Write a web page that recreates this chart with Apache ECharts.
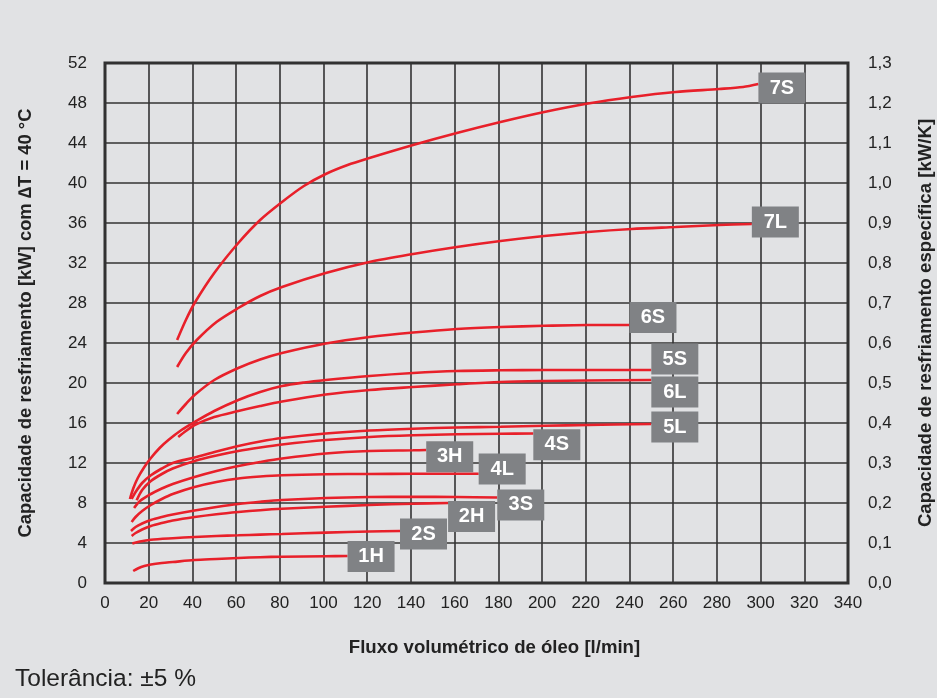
<!DOCTYPE html>
<html>
<head>
<meta charset="utf-8">
<script src="https://cdn.jsdelivr.net/npm/echarts@6/dist/echarts.min.js"></script>
<style>
html,body{margin:0;padding:0;background:#e1e2e4;overflow:hidden;}
#c{width:937px;height:698px;}
</style>
</head>
<body>
<div id="c"></div>
<script>
// ---- data (flow l/min, capacity kW) ----
const names = ['7S','7L','6S','5S','6L','5L','4S','3H','4L','3S','2H','2S','1H'];

const x7S = [33, 37, 41, 50, 61, 71, 81, 91, 101, 111, 121, 141, 161, 181, 201, 221, 241, 261, 281, 292, 299];
const y7S = [24.3, 26.3, 28.0, 31.0, 34.0, 36.3, 38.1, 39.7, 40.9, 41.8, 42.5, 43.8, 45.0, 46.1, 47.1, 47.95, 48.6, 49.1, 49.4, 49.6, 49.9];

const x7L = [33, 37, 42, 51, 61, 71, 81, 101, 121, 141, 161, 181, 201, 221, 241, 261, 281, 296];
const y7L = [21.6, 23.0, 24.3, 26.1, 27.5, 28.7, 29.6, 31.0, 32.1, 32.9, 33.6, 34.2, 34.7, 35.1, 35.4, 35.6, 35.8, 35.9];

const x6S = [33, 37, 41, 50, 61, 71, 81, 101, 121, 141, 161, 181, 201, 221, 240];
const y6S = [16.9, 17.9, 18.8, 20.3, 21.5, 22.35, 23.0, 23.95, 24.6, 25.05, 25.4, 25.6, 25.72, 25.8, 25.8];

const x5S = [11.4, 13, 15, 18, 21, 25, 29, 35, 41, 50, 61, 71, 81, 91, 101, 121, 141, 161, 181, 201, 221, 250];
const y5S = [8.4, 9.5, 10.5, 11.6, 12.5, 13.5, 14.3, 15.3, 16.1, 17.2, 18.3, 19.1, 19.7, 20.05, 20.3, 20.7, 21.0, 21.2, 21.27, 21.3, 21.3, 21.3];

const x6L = [33.5, 37, 41, 50, 61, 71, 81, 101, 121, 141, 161, 181, 201, 221, 250];
const y6L = [14.6, 15.2, 15.8, 16.6, 17.2, 17.7, 18.15, 18.85, 19.3, 19.6, 19.87, 20.1, 20.2, 20.25, 20.3];

const x5L = [12.2, 14, 17, 21, 26, 31, 41, 51, 61, 71, 81, 101, 121, 141, 161, 181, 201, 221, 250];
const y5L = [8.4, 9.1, 10.0, 10.77, 11.45, 12.0, 12.55, 13.15, 13.7, 14.15, 14.5, 14.95, 15.25, 15.43, 15.55, 15.63, 15.72, 15.8, 15.9];

const x4S = [14.5, 17, 21, 26, 31, 41, 51, 61, 71, 81, 101, 121, 141, 161, 181, 196];
const y4S = [8.27, 9.3, 10.2, 10.9, 11.45, 12.2, 12.75, 13.2, 13.55, 13.85, 14.3, 14.6, 14.77, 14.87, 14.93, 14.95];

const x3H = [13.3, 16, 21, 26, 31, 41, 51, 61, 71, 81, 101, 121, 141, 147];
const y3H = [7.5, 8.2, 8.9, 9.45, 9.9, 10.6, 11.2, 11.7, 12.1, 12.45, 12.95, 13.2, 13.27, 13.3];

const x4L = [12.2, 14, 17, 21, 26, 31, 41, 51, 61, 71, 81, 101, 121, 141, 161, 171];
const y4L = [6.1, 6.6, 7.2, 7.8, 8.4, 8.9, 9.6, 10.1, 10.45, 10.65, 10.78, 10.88, 10.9, 10.92, 10.92, 10.92];

const x3S = [11.9, 14, 17, 21, 26, 31, 41, 51, 61, 71, 81, 101, 121, 141, 161, 179.5];
const y3S = [5.2, 5.6, 5.95, 6.3, 6.6, 6.85, 7.25, 7.6, 7.9, 8.12, 8.3, 8.5, 8.6, 8.62, 8.6, 8.55];

const x2H = [12.2, 14, 17, 21, 26, 31, 41, 51, 61, 71, 81, 101, 121, 141, 157];
const y2H = [4.7, 5.0, 5.35, 5.7, 6.0, 6.25, 6.6, 6.88, 7.1, 7.28, 7.42, 7.62, 7.8, 7.93, 8.0];

const x2S = [12.5, 16, 21, 31, 41, 51, 61, 71, 81, 101, 121, 135];
const y2S = [3.94, 4.15, 4.33, 4.48, 4.6, 4.7, 4.77, 4.84, 4.9, 5.04, 5.15, 5.2];

const x1H = [12.9, 15, 18, 21, 26, 31, 41, 51, 61, 71, 81, 101, 111];
const y1H = [1.2, 1.45, 1.7, 1.85, 2.0, 2.1, 2.3, 2.4, 2.5, 2.58, 2.63, 2.68, 2.7];

const flowAxis = {min: 0, max: 340, step: 20};
const capAxis = {min: 0, max: 52, step: 4};
const specAxis = {min: 0, max: 1.3, step: 0.1};

// ---- styling ----
const seriesX = {'7S':x7S,'7L':x7L,'6S':x6S,'5S':x5S,'6L':x6L,'5L':x5L,'4S':x4S,'3H':x3H,'4L':x4L,'3S':x3S,'2H':x2H,'2S':x2S,'1H':x1H};
const seriesY = {'7S':y7S,'7L':y7L,'6S':y6S,'5S':y5S,'6L':y6L,'5L':y5L,'4S':y4S,'3H':y3H,'4L':y4L,'3S':y3S,'2H':y2H,'2S':y2S,'1H':y1H};
const labelDy = {'7S':4,'7L':-2,'6S':-7.5,'5S':-11,'6L':12,'5L':3,'4S':11.3,'3H':6.7,'4L':-4.7,'3S':7.4,'2H':13.6,'2S':3,'1H':0.5};

const FONT = '"Liberation Sans", Arial, sans-serif';
const RED = '#e8202a';

const series = names.map(n => {
  const xs = seriesX[n], ys = seriesY[n];
  const data = xs.map((x, i) => [x, ys[i]]);
  const last = data[data.length - 1];
  return {
    name: n,
    type: 'line',
    data: data,
    smooth: 0.3,
    showSymbol: false,
    symbol: 'none',
    lineStyle: {color: RED, width: 2.6},
    z: 3,
    markPoint: {
      symbol: 'rect',
      symbolSize: [47, 31],
      symbolOffset: [23.5, labelDy[n]],
      itemStyle: {color: '#808285'},
      label: {show: true, position: 'inside', formatter: n, color: '#fff', fontWeight: 'bold', fontSize: 20, fontFamily: FONT},
      data: [{coord: last}],
      animation: false
    }
  };
});

const chart = echarts.init(document.getElementById('c'), null, {renderer: 'canvas'});
chart.setOption({
  animation: false,
  backgroundColor: '#e1e2e4',
  grid: {left: 105, right: 89, top: 63, bottom: 115, outerBoundsMode: 'none', containLabel: false,
         show: true, backgroundColor: '#e1e2e4', borderColor: '#2e2e2e', borderWidth: 3},
  xAxis: {
    type: 'value', min: flowAxis.min, max: flowAxis.max, interval: flowAxis.step,
    name: 'Fluxo volumétrico de óleo [l/min]', nameLocation: 'middle', nameGap: 55,
    nameTextStyle: {fontFamily: FONT, fontSize: 18.6, fontWeight: 'bold', color: '#222', padding: [0, 0, 0, 36]},
    axisLine: {show: false}, axisTick: {show: false},
    axisLabel: {fontFamily: FONT, fontSize: 17, color: '#222', margin: 12},
    splitLine: {show: true, lineStyle: {color: '#333', width: 1.6}}
  },
  yAxis: [{
    type: 'value', min: capAxis.min, max: capAxis.max, interval: capAxis.step,
    name: 'Capacidade de resfriamento [kW] com \u2206T = 40 \u00b0C', nameLocation: 'middle', nameGap: 70, nameRotate: 90,
    nameTextStyle: {fontFamily: FONT, fontSize: 18.4, fontWeight: 'bold', color: '#222'},
    axisLine: {show: false}, axisTick: {show: false},
    axisLabel: {fontFamily: FONT, fontSize: 17, color: '#222', margin: 18},
    splitLine: {show: true, lineStyle: {color: '#333', width: 1.6}}
  }, {
    type: 'value', min: specAxis.min, max: specAxis.max, interval: specAxis.step, position: 'right',
    name: 'Capacidade de resfriamento específica [kW/K]', nameLocation: 'middle', nameGap: 68, nameRotate: 90,
    nameTextStyle: {fontFamily: FONT, fontSize: 18.6, fontWeight: 'bold', color: '#222'},
    axisLine: {show: false}, axisTick: {show: false},
    axisLabel: {fontFamily: FONT, fontSize: 17, color: '#222', margin: 20, formatter: v => v.toFixed(1).replace('.', ',')},
    splitLine: {show: false}
  }],
  graphic: [{
    type: 'text', left: 15, top: 667,
    style: {text: 'Toler\u00e2ncia: \u00b15 %', font: '24.5px ' + FONT, fill: '#222'}
  }],
  series: series
});
</script>
</body>
</html>
